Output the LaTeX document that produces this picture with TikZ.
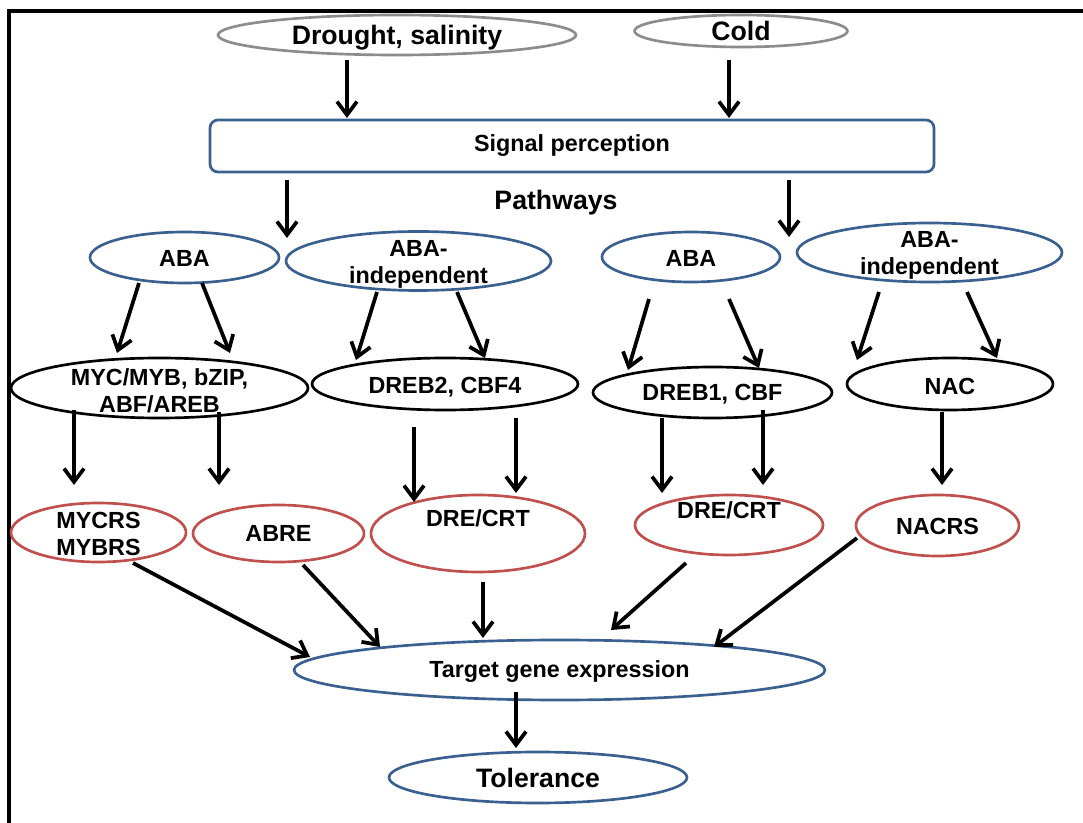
\documentclass[tikz,border=0pt]{standalone}
\usepackage{fontspec}
\setmainfont{Liberation Sans}
\usetikzlibrary{shapes.geometric,arrows.meta,calc}
\definecolor{eblue}{HTML}{3A6090}
\definecolor{ered}{HTML}{C0504D}
\definecolor{egray}{HTML}{8C8C8C}
\tikzset{
  ell/.style 2 args={ellipse, minimum width=#1*0.75pt, minimum height=#2*0.75pt, inner sep=0pt, line width=2pt},
  gr/.style={draw=egray},
  bl/.style={draw=eblue},
  bk/.style={draw=black},
  rd/.style={draw=ered},
  lbl/.style={font=\bfseries\fontsize{17.5}{20.5}\selectfont, align=center, inner sep=0pt},
  big/.style={font=\bfseries\fontsize{20}{24}\selectfont, align=center, inner sep=0pt},
  arr/.style={line width=2.8pt, -{Straight Barb[length=10pt,width=15pt]}},
}
\begin{document}
\begin{tikzpicture}[x=0.75pt, y=-0.75pt]
\useasboundingbox (0,0) rectangle (1083,823);
% frame
\draw[line width=3pt, line join=miter] (9,823) -- (9,11.5) -- (1083,11.5);

% stimuli
\node[ell={358}{40}, gr, label={[big,yshift=-2pt]center:Drought, salinity}] (drought) at (397,35) {};
\node[ell={213}{32}, gr, label={[big]center:Cold}] (cold) at (741,31) {};

% signal perception
\node[rectangle, rounded corners=6pt, bl, line width=2pt, minimum width=724*0.75pt, minimum height=52*0.75pt, lbl] (signal) at (572,146) {Signal perception};
\node[big] (pathways) at (556,203) {Pathways};

% pathways
\node[ell={189}{51}, bl, label={[lbl,yshift=-1pt]center:ABA}] (aba1) at (184.5,257.5) {};
\node[ell={265}{59}, bl, label={[lbl,yshift=-2.5pt]center:{ABA-\\independent}}] (abai1) at (418.5,261) {};
\node[ell={178}{50}, bl, label={[lbl,yshift=-1pt]center:ABA}] (aba2) at (691,257) {};
\node[ell={265}{59}, bl, label={[lbl,yshift=-2pt]center:{ABA-\\independent}}] (abai2) at (929.5,252.5) {};

% transcription factors
\node[ell={297}{60}, bk, label={[lbl,yshift=-2pt]center:{MYC/MYB, bZIP,\\ABF/AREB}}] (myc) at (159.5,388) {};
\node[ell={266}{52}, bk, label={[lbl,yshift=-2pt]center:{DREB2, CBF4}}] (dreb2) at (445,384) {};
\node[ell={239}{51}, bk, label={[lbl,yshift=-1pt]center:{DREB1, CBF}}] (dreb1) at (712.5,392.5) {};
\node[ell={206}{52}, bk, label={[lbl,yshift=-2pt]center:NAC}] (nac) at (950,384) {};

% cis elements
\node[ell={175}{59}, rd, label={[lbl,yshift=-1pt]center:{MYCRS\\MYBRS}}] (mycrs) at (98.5,532.5) {};
\node[ell={171}{57}, rd, label={[lbl]center:ABRE}] (abre) at (278.5,533.5) {};
\node[ell={214}{77}, rd, label={[lbl,yshift=11.5pt]center:DRE/CRT}] (dre1) at (478,533.5) {};
\node[ell={188}{60}, rd, label={[lbl,yshift=11pt]center:DRE/CRT}] (dre2) at (729,525) {};
\node[ell={163}{61}, rd, label={[lbl,yshift=-1pt]center:NACRS}] (nacrs) at (937.5,525.5) {};

% output
\node[ell={531}{60}, bl, label={[lbl,yshift=-1.5pt]center:Target gene expression}] (target) at (559.5,670) {};
\node[ell={298}{51}, bl, label={[big]center:Tolerance}] (tol) at (538,777.5) {};

\coordinate (gapL) at (287,238);
\coordinate (gapR) at (789,237);

% arrows
\draw[arr] ($(drought)+(-50,25)$) -- ($(signal)+(-225,-28)$);
\draw[arr] ($(cold)+(-12,29)$) -- ($(signal)+(157,-28)$);
\draw[arr] ($(signal)+(-285,34)$) -- (gapL);
\draw[arr] ($(signal)+(217,34)$) -- (gapR);

\draw[arr] ($(aba1)+(-45.5,25.5)$) -- ($(myc)+(-42.5,-35)$);
\draw[arr] ($(aba1)+(17.5,25.5)$) -- ($(myc)+(70.5,-35)$);
\draw[arr] ($(abai1)+(-41.5,31)$) -- ($(dreb2)+(-89,-24)$);
\draw[arr] ($(abai1)+(38.5,31)$) -- ($(dreb2)+(40,-26)$);
\draw[arr] ($(aba2)+(-42,42)$) -- ($(dreb1)+(-84.5,-22.5)$);
\draw[arr] ($(aba2)+(38,42)$) -- ($(dreb1)+(46.5,-24.5)$);
\draw[arr] ($(abai2)+(-50.5,39.5)$) -- ($(nac)+(-93,-24)$);
\draw[arr] ($(abai2)+(37.5,39.5)$) -- ($(nac)+(47,-26)$);

\draw[arr] ($(myc)+(-85.5,22)$) -- ($(mycrs)+(-24.5,-47.5)$);
\draw[arr] ($(myc)+(59.5,24)$) -- ($(abre)+(-59.5,-48.5)$);
\draw[arr] ($(dreb2)+(-31,43)$) -- ($(dre1)+(-64,-31.5)$);
\draw[arr] ($(dreb2)+(71,34)$) -- ($(dre1)+(38,-40.5)$);
\draw[arr] ($(dreb1)+(-50.5,25.5)$) -- ($(dre2)+(-67,-32)$);
\draw[arr] ($(dreb1)+(50.5,17.5)$) -- ($(dre2)+(34,-40)$);
\draw[arr] ($(nac)+(-8,28)$) -- ($(nacrs)+(4.5,-40.5)$);

\draw[arr] ($(mycrs)+(34.5,30.5)$) -- ($(target)+(-249.5,-13)$);
\draw[arr] ($(abre)+(24.5,31.5)$) -- ($(target)+(-179.5,-23)$);
\draw[arr] ($(dre1)+(5,48.5)$) -- ($(target)+(-76.5,-32)$);
\draw[arr] ($(dre2)+(-43,38)$) -- ($(target)+(51.5,-40)$);
\draw[arr] ($(nacrs)+(-80.5,12.5)$) -- ($(target)+(154.5,-23)$);
\draw[arr] ($(target)+(-43.5,22)$) -- ($(tol)+(-22,-29.5)$);
\end{tikzpicture}
\end{document}
